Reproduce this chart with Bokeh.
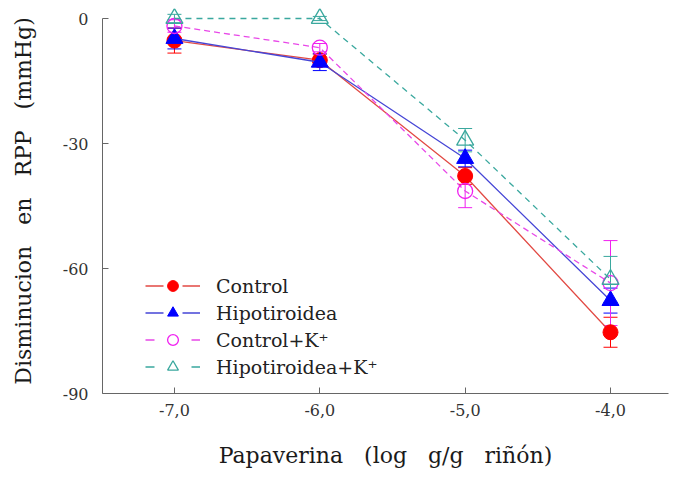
from bokeh.plotting import figure
from bokeh.models import ColumnDataSource, Whisker, TeeHead, Legend, LegendItem, FixedTicker, Range1d
from bokeh.embed import file_html
from bokeh.resources import INLINE

# Data
dose = [-7.0, -6.0, -5.0, -4.0]
tick_labels = ["-7,0", "-6,0", "-5,0", "-4,0"]
y_ticks = [0, -30, -60, -90]
y_tick_labels = ["0", "-30", "-60", "-90"]

control = [-5.3, -10.0, -37.8, -75.3]
control_err = [3.0, 1.5, 2.0, 3.6]
hipo = [-4.8, -10.5, -33.6, -67.7]
hipo_err = [2.5, 2.0, 2.0, 3.0]
control_k = [-1.8, -7.0, -41.4, -63.5]
control_k_err = [1.5, 1.0, 4.0, 10.2]
hipo_k = [0.0, 0.0, -29.2, -62.6]
hipo_k_err = [1.0, 0.5, 2.8, 5.5]

SERIF = "DejaVu Serif"
GAP = "\u00a0" * 3

p = figure(width=671, height=477, output_backend="svg", toolbar_location=None,
           x_range=Range1d(-7.495, -3.601), y_range=Range1d(-90, 2.4),
           min_border_left=102, min_border_right=3, min_border_top=8, min_border_bottom=84)
p.frame_width = 566
p.frame_height = 385
p.outline_line_color = None
p.grid.visible = False
p.background_fill_color = "white"

series = [
    ("Control", control, control_err, "#FF0000", "#E24A44", "circle", True, "solid", 15, "18 19 18 100"),
    ("Hipotiroidea", hipo, hipo_err, "#0000FF", "#4646D6", "triangle", True, "solid", 17, "18 19 18 100"),
    ("Control+K\u207a", control_k, control_k_err, "#F020F0", "#E848E8", "circle", False, "6 4", 15, "9 37 9 100"),
    ("Hipotiroidea+K\u207a", hipo_k, hipo_k_err, "#3AA89E", "#3AA89E", "triangle", False, "6 5", 17, "9 37 9 100"),
]

items = []
for name, vals, errs, mcol, lcol, marker, filled, dash, size, leg_dash in series:
    src = ColumnDataSource(dict(x=dose, y=vals,
                                upper=[v + e for v, e in zip(vals, errs)],
                                lower=[v - e for v, e in zip(vals, errs)]))
    w = Whisker(source=src, base="x", upper="upper", lower="lower",
                line_color=mcol, line_width=1,
                upper_head=TeeHead(size=14, line_color=mcol, line_width=1),
                lower_head=TeeHead(size=14, line_color=mcol, line_width=1))
    p.add_layout(w)
    p.line("x", "y", source=src, line_color=lcol, line_width=1.3, line_dash=dash)
    # legend-only line sample, placed far outside the visible ranges
    leg_ln = p.line(x=[-20.0, -19.0], y=[-500.0, -500.0], line_color=lcol,
                    line_width=1.3, line_dash=leg_dash)
    if filled:
        sc = p.scatter("x", "y", source=src, marker=marker, size=size,
                       fill_color=mcol, line_color=mcol, line_width=1)
    else:
        sc = p.scatter("x", "y", source=src, marker=marker, size=size,
                       fill_color=None, line_color=mcol, line_width=1.3)
    items.append(LegendItem(label=name, renderers=[leg_ln, sc]))

legend = Legend(items=items, location=(43, 13), border_line_color=None,
                background_fill_alpha=0, label_text_font=SERIF,
                label_text_font_size="19px", label_text_color="#222222",
                glyph_width=55, glyph_height=27, label_height=27,
                label_standoff=16, spacing=0, padding=0, margin=0)
p.add_layout(legend)

for ax in (p.xaxis[0], p.yaxis[0]):
    ax.axis_line_color = "#666666"
    ax.major_tick_line_color = "#666666"
    ax.major_tick_in = 6
    ax.major_tick_out = 0
    ax.minor_tick_line_color = None
    ax.major_label_text_font = SERIF
    ax.major_label_text_font_size = "16px"
    ax.major_label_text_color = "#333333"
    ax.axis_label_text_font = SERIF
    ax.axis_label_text_font_size = "22px"
    ax.axis_label_text_font_style = "normal"
    ax.axis_label_text_color = "#1a1a1a"

p.xaxis.ticker = FixedTicker(ticks=dose)
p.xaxis.major_label_overrides = {d: t for d, t in zip(dose, tick_labels)}
p.xaxis.major_label_standoff = 10
p.xaxis.axis_label = GAP.join(["Papaverina", "(log", "g/g", "riñón)"])
p.xaxis.axis_label_standoff = 24

p.yaxis.ticker = FixedTicker(ticks=y_ticks)
p.yaxis.major_label_overrides = {t: s for t, s in zip(y_ticks, y_tick_labels)}
p.yaxis.bounds = (-90, 0)
p.yaxis.major_label_standoff = 14
p.yaxis.axis_label = GAP.join(["Disminucion", "en", "RPP", "(mmHg)"])
p.yaxis.axis_label_standoff = 24

open("out.html", "w").write(file_html(p, INLINE))
